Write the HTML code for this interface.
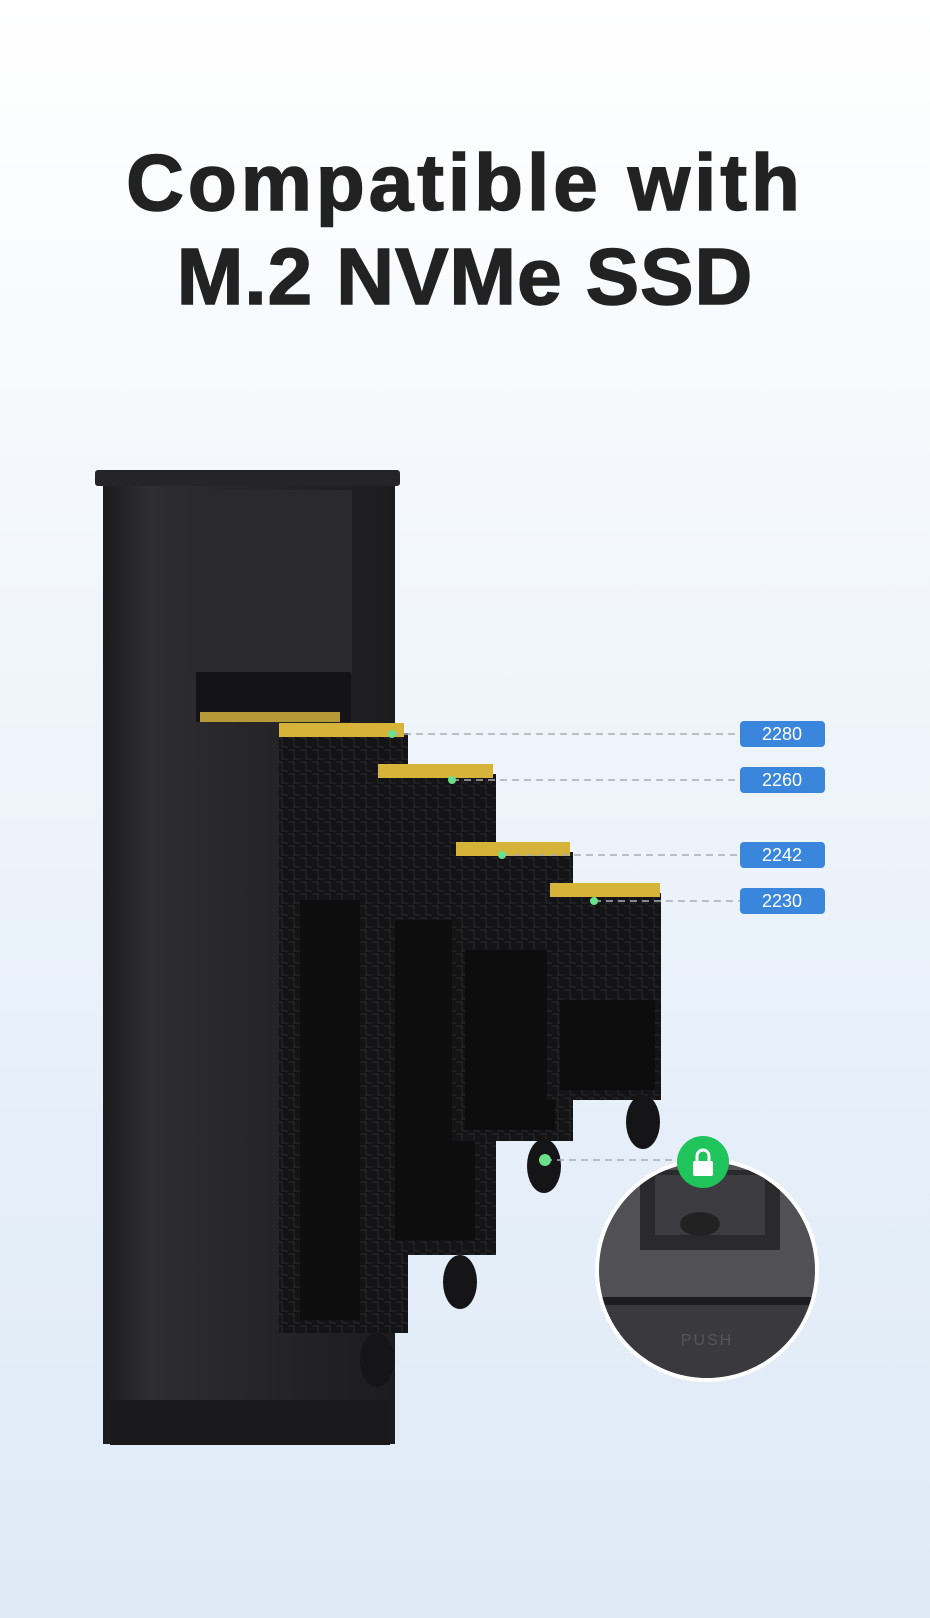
<!DOCTYPE html>
<html><head><meta charset="utf-8"><style>
html,body{margin:0;padding:0}
body{width:930px;height:1618px;overflow:hidden;background:linear-gradient(#ffffff 0%,#f4f8fc 30%,#e6eff9 70%,#dfeaf7 100%);position:relative;font-family:"Liberation Sans",sans-serif}
h1{position:absolute;top:136px;left:0;width:930px;margin:0;text-align:center;font-size:80px;line-height:94px;font-weight:bold;color:#222;letter-spacing:4px;-webkit-text-stroke:1.5px #222}
h1 span{letter-spacing:1px}
</style></head><body>
<h1>Compatible with<br><span>M.2 NVMe SSD</span></h1>
<svg width="930" height="1618" style="position:absolute;left:0;top:0">
<defs>
<linearGradient id="b" x1="0" x2="1"><stop offset="0" stop-color="#1b1b1d"/><stop offset=".15" stop-color="#2e2e31"/><stop offset="1" stop-color="#1c1c1e"/></linearGradient>
<pattern id="pcb" width="12" height="12" patternUnits="userSpaceOnUse"><rect width="12" height="12" fill="#141416"/><path d="M0 6h6v6M6 0v3h6" stroke="#2c2c30" fill="none"/></pattern>
<clipPath id="c"><circle cx="707" cy="1270" r="108"/></clipPath>
</defs>
<rect x="103" y="478" width="292" height="966" fill="url(#b)"/>
<rect x="95" y="470" width="305" height="16" rx="3" fill="#252527"/>
<rect x="190" y="490" width="162" height="185" fill="#2a2a2d"/>
<rect x="196" y="672" width="155" height="50" fill="#141416"/>
<rect x="200" y="712" width="140" height="10" fill="#b69a3a"/>
<rect x="110" y="1400" width="280" height="45" fill="#1a1a1c"/>
<rect x="279" y="733" width="129" height="600" fill="url(#pcb)"/>
<rect x="300" y="900" width="60" height="420" fill="#0d0d0e"/>
<rect x="279" y="723" width="125" height="14" fill="#d6b43a"/>
<rect x="374" y="774" width="122" height="481" fill="url(#pcb)"/>
<rect x="395" y="920" width="80" height="320" fill="#0d0d0e"/>
<rect x="378" y="764" width="115" height="14" fill="#d6b43a"/>
<rect x="452" y="852" width="121" height="289" fill="url(#pcb)"/>
<rect x="465" y="950" width="90" height="180" fill="#0d0d0e"/>
<rect x="456" y="842" width="114" height="14" fill="#d6b43a"/>
<rect x="547" y="893" width="114" height="207" fill="url(#pcb)"/>
<rect x="560" y="1000" width="95" height="90" fill="#0d0d0e"/>
<rect x="550" y="883" width="110" height="14" fill="#d6b43a"/>
<g fill="#151517"><ellipse cx="377" cy="1360" rx="17" ry="27"/><ellipse cx="460" cy="1282" rx="17" ry="27"/><ellipse cx="544" cy="1166" rx="17" ry="27"/><ellipse cx="643" cy="1122" rx="17" ry="27"/></g>
<g stroke="#a9aeb5" stroke-width="1.5" stroke-dasharray="7 5" fill="none">
<line x1="392" y1="734" x2="740" y2="734"/><line x1="452" y1="780" x2="740" y2="780"/>
<line x1="502" y1="855" x2="740" y2="855"/><line x1="594" y1="901" x2="740" y2="901"/>
<line x1="545" y1="1160" x2="690" y2="1160"/></g>
<g fill="#6be08a"><circle cx="392" cy="734" r="4"/><circle cx="452" cy="780" r="4"/><circle cx="502" cy="855" r="4"/><circle cx="594" cy="901" r="4"/><circle cx="545" cy="1160" r="6"/></g>
<g fill="#3a86dc"><rect x="740" y="721" width="85" height="26" rx="4"/><rect x="740" y="767" width="85" height="26" rx="4"/><rect x="740" y="842" width="85" height="26" rx="4"/><rect x="740" y="888" width="85" height="26" rx="4"/></g>
<g fill="#fff" font-family="Liberation Sans" font-size="18" text-anchor="middle"><text x="782" y="740">2280</text><text x="782" y="786">2260</text><text x="782" y="861">2242</text><text x="782" y="907">2230</text></g>
<circle cx="707" cy="1270" r="112" fill="#fff"/>
<g clip-path="url(#c)">
<rect x="590" y="1150" width="240" height="240" fill="#505055"/>
<rect x="640" y="1170" width="140" height="80" fill="#2a2a2d"/>
<rect x="655" y="1175" width="110" height="60" fill="#3c3c40"/>
<ellipse cx="700" cy="1224" rx="20" ry="12" fill="#222"/>
<rect x="590" y="1297" width="240" height="8" fill="#1d1d20"/>
<rect x="590" y="1305" width="240" height="90" fill="#3a3a3e"/>
<text x="707" y="1345" text-anchor="middle" font-size="16" fill="#55555a" font-family="Liberation Sans" letter-spacing="2">PUSH</text>
</g>
<circle cx="703" cy="1162" r="26" fill="#1fc45a"/>
<rect x="693" y="1161" width="20" height="15" rx="2" fill="#fff"/>
<path d="M697 1161v-5a6 6 0 0 1 12 0v5" stroke="#fff" stroke-width="3" fill="none"/>
</svg>
</body></html>
